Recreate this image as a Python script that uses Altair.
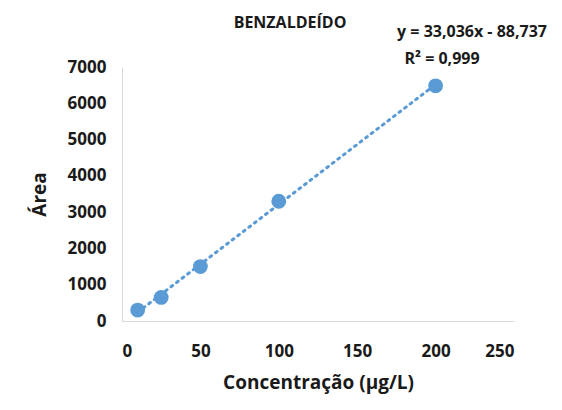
import altair as alt
import pandas as pd

concentracao = [10, 25, 50, 100, 200]
area = [300, 650, 1500, 3300, 6480]
slope, intercept = 33.036, -88.737

df = pd.DataFrame({"x": concentracao, "y": area})
trend = pd.DataFrame({"x": [10, 200]})
trend["y"] = slope * trend["x"] + intercept

font = "Open Sans"

x = alt.X("x:Q", scale=alt.Scale(domain=[0, 250]),
          axis=alt.Axis(values=[0, 50, 100, 150, 200, 250], title="Concentração (µg/L)", format="d",
                        grid=False, ticks=False, domainColor="#d9d9d9", labelPadding=22,
                        titlePadding=14))
y = alt.Y("y:Q", scale=alt.Scale(domain=[0, 7000]),
          axis=alt.Axis(values=list(range(0, 7001, 1000)), title="Área", format="d",
                        grid=False, ticks=False, domainColor="#d9d9d9", labelPadding=16,
                        titlePadding=18))

line = alt.Chart(trend).mark_line(color="#5b9bd5", strokeDash=[2, 5], strokeWidth=3,
                                  strokeCap="round").encode(x=x, y=y)
pts = alt.Chart(df).mark_circle(size=220, color="#5b9bd5", opacity=1).encode(x=x, y=y)

labels = pd.DataFrame({"t": ["BENZALDEÍDO", "y = 33,036x - 88,737", "R² = 0,999"],
                       "px": [168, 350, 320], "py": [-44, -35, -8]})
eq = alt.Chart(labels).mark_text(
    font=font, fontWeight="bold", fontSize=16, color="#1a1a1a", align="center"
).encode(x=alt.X("px:Q", scale=None), y=alt.Y("py:Q", scale=None), text="t:N")

chart = (line + pts + eq).properties(
    width=392, height=254,
    autosize="none", padding={"left": 114, "top": 59, "right": 40, "bottom": 81},
).configure_axis(
    labelFont=font, labelFontSize=17, labelFontWeight="bold", labelColor="#1a1a1a",
    titleFont=font, titleFontSize=19, titleFontWeight="bold", titleColor="#1a1a1a",
).configure_view(stroke=None)

chart.save("out.html", embed_options={"renderer": "svg", "actions": False})
